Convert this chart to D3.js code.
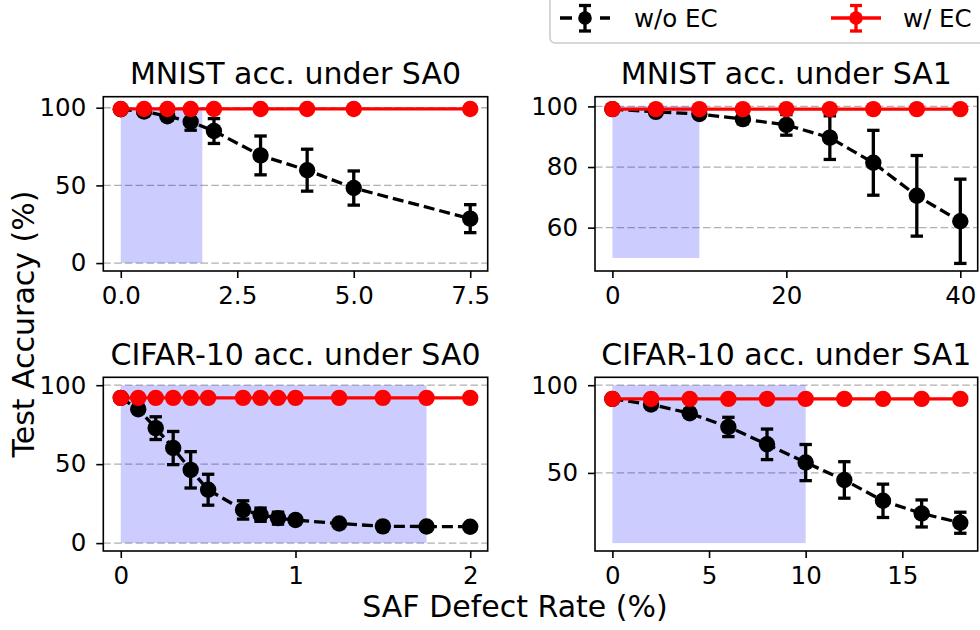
<!DOCTYPE html>
<html>
<head>
<meta charset="utf-8">
<script src="https://cdn.jsdelivr.net/npm/d3@7"></script>
<style>
  html, body { margin: 0; padding: 0; background: #fff; }
  svg { display: block; font-family: "DejaVu Sans", sans-serif; }
</style>
</head>
<body>
<svg id="chart" width="980" height="630"></svg>
<script>
// ---- data: accuracy (%) vs. stuck-at-fault defect rate (%) ----
// MNIST, stuck-at-0
const mnistSa0Rate = [0, 0.5, 1, 1.5, 2, 3, 4, 5, 7.5];
const mnistSa0NoEc = [99.0, 97.6, 94.5, 91.0, 85.0, 69.3, 59.8, 48.3, 28.6];
const mnistSa0NoEcErr = [0.5, 1.5, 2.5, 5.5, 8.0, 12.5, 13.5, 11.0, 9.0];
const mnistSa0Ec = [99.2, 99.2, 99.2, 99.2, 99.2, 99.2, 99.2, 99.2, 99.2];

// MNIST, stuck-at-1
const mnistSa1Rate = [0, 5, 10, 15, 20, 25, 30, 35, 40];
const mnistSa1NoEc = [99.1, 98.2, 97.5, 95.8, 93.9, 89.7, 81.4, 70.5, 62.1];
const mnistSa1NoEcErr = [0.3, 0.5, 1.0, 1.5, 3.4, 7.2, 10.7, 13.3, 13.9];
const mnistSa1Ec = [99.1, 99.1, 99.1, 99.1, 99.1, 99.1, 99.1, 99.1, 99.1];

// CIFAR-10, stuck-at-0
const cifarSa0Rate = [0, 0.1, 0.2, 0.3, 0.4, 0.5, 0.7, 0.8, 0.9, 1.0, 1.25, 1.5, 1.75, 2.0];
const cifarSa0NoEc = [92.0, 84.8, 72.8, 60.2, 46.4, 33.8, 21.0, 18.0, 15.8, 14.6, 12.4, 10.6, 10.5, 10.4];
const cifarSa0NoEcErr = [0.3, 2.5, 7.2, 10.5, 11.5, 9.8, 5.8, 4.2, 3.8, 2.2, 1.0, 0.6, 0.5, 0.4];
const cifarSa0Ec = [92.0, 92.0, 92.0, 92.0, 92.0, 92.0, 92.0, 92.0, 92.0, 92.0, 92.0, 92.0, 92.0, 92.0];

// CIFAR-10, stuck-at-1
const cifarSa1Rate = [0, 2, 4, 6, 8, 10, 12, 14, 16, 18];
const cifarSa1NoEc = [92.2, 89.0, 84.0, 76.2, 66.3, 55.9, 46.0, 34.1, 26.9, 21.6];
const cifarSa1NoEcErr = [0.3, 1.5, 2.2, 5.5, 8.7, 10.3, 10.4, 9.5, 7.7, 6.0];
const cifarSa1Ec = [92.2, 92.2, 92.2, 92.2, 92.2, 92.2, 92.2, 92.2, 92.2, 92.2];

// shaded operating regions: [xStart, xEnd, yStart, yEnd]
const mnistSa0Region = [0, 1.75, 0, 98.5];
const mnistSa1Region = [0, 10, 50, 100];
const cifarSa0Region = [0, 1.75, 0, 100];
const cifarSa1Region = [0, 10, 10, 100];

// tick values
const mnistSa0XTicks = [0, 2.5, 5, 7.5];
const mnistSa0YTicks = [0, 50, 100];
const mnistSa1XTicks = [0, 20, 40];
const mnistSa1YTicks = [60, 80, 100];
const cifarSa0XTicks = [0, 1, 2];
const cifarSa0YTicks = [0, 50, 100];
const cifarSa1XTicks = [0, 5, 10, 15];
const cifarSa1YTicks = [50, 100];

// axis ranges (data limits plus padding)
const mnistSa0XDomain = [-0.375, 7.875];
const mnistSa0YDomain = [-5.1, 107.1];
const mnistSa1XDomain = [-2, 42];
const mnistSa1YDomain = [45.7, 103.2];
const cifarSa0XDomain = [-0.1, 2.1];
const cifarSa0YDomain = [-5.0, 105.0];
const cifarSa1XDomain = [-0.9, 18.9];
const cifarSa1YDomain = [5.5, 104.5];

const seriesNames = ["w/o EC", "w/ EC"];

// ---- layout ----
const svg = d3.select("#chart");
svg.append("rect").attr("width", 980).attr("height", 630).attr("fill", "#fff");

const TICK_FONT = 24.5;
const TITLE_FONT = 30;
const LW = 3.3;

const panels = [
  { title: "MNIST acc. under SA0", box: [103.3, 96.7, 487.7, 271],
    rate: mnistSa0Rate, noEc: mnistSa0NoEc, err: mnistSa0NoEcErr, ec: mnistSa0Ec,
    region: mnistSa0Region, xTicks: mnistSa0XTicks, yTicks: mnistSa0YTicks,
    xDomain: mnistSa0XDomain, yDomain: mnistSa0YDomain, xFmt: d3.format(".1f") },
  { title: "MNIST acc. under SA1", box: [595, 96.7, 977.7, 271],
    rate: mnistSa1Rate, noEc: mnistSa1NoEc, err: mnistSa1NoEcErr, ec: mnistSa1Ec,
    region: mnistSa1Region, xTicks: mnistSa1XTicks, yTicks: mnistSa1YTicks,
    xDomain: mnistSa1XDomain, yDomain: mnistSa1YDomain, xFmt: d3.format("d") },
  { title: "CIFAR-10 acc. under SA0", box: [103.3, 377.3, 487.7, 551],
    rate: cifarSa0Rate, noEc: cifarSa0NoEc, err: cifarSa0NoEcErr, ec: cifarSa0Ec,
    region: cifarSa0Region, xTicks: cifarSa0XTicks, yTicks: cifarSa0YTicks,
    xDomain: cifarSa0XDomain, yDomain: cifarSa0YDomain, xFmt: d3.format("d") },
  { title: "CIFAR-10 acc. under SA1", box: [595, 377.3, 977.7, 551],
    rate: cifarSa1Rate, noEc: cifarSa1NoEc, err: cifarSa1NoEcErr, ec: cifarSa1Ec,
    region: cifarSa1Region, xTicks: cifarSa1XTicks, yTicks: cifarSa1YTicks,
    xDomain: cifarSa1XDomain, yDomain: cifarSa1YDomain, xFmt: d3.format("d") }
];

function drawPanel(p) {
  const [x0, y0, x1, y1] = p.box;
  const x = d3.scaleLinear().domain(p.xDomain).range([x0, x1]);
  const y = d3.scaleLinear().domain(p.yDomain).range([y1, y0]);
  const g = svg.append("g");

  // horizontal dashed grid
  g.selectAll("line.grid").data(p.yTicks).join("line")
    .attr("x1", x0).attr("x2", x1)
    .attr("y1", d => y(d)).attr("y2", d => y(d))
    .attr("stroke", "#b0b0b0").attr("stroke-width", 1.3)
    .attr("stroke-dasharray", "7.5,3.3");

  // shaded region
  const [rx0, rx1, ry0, ry1] = p.region;
  g.append("rect")
    .attr("x", x(rx0)).attr("y", y(ry1))
    .attr("width", x(rx1) - x(rx0)).attr("height", y(ry0) - y(ry1))
    .attr("fill", "blue").attr("fill-opacity", 0.2);

  const pts = p.rate.map((r, i) => ({ r, v: p.noEc[i], e: p.err[i], ec: p.ec[i] }));

  // without error correction: dashed black line, error bars, markers
  g.append("path").datum(pts)
    .attr("d", d3.line().x(d => x(d.r)).y(d => y(d.v)))
    .attr("fill", "none").attr("stroke", "#000").attr("stroke-width", LW)
    .attr("stroke-dasharray", "11,5");
  const eb = g.selectAll("g.eb").data(pts).join("g");
  eb.append("line")
    .attr("x1", d => x(d.r)).attr("x2", d => x(d.r))
    .attr("y1", d => y(d.v - d.e)).attr("y2", d => y(d.v + d.e))
    .attr("stroke", "#000").attr("stroke-width", LW);
  [-1, 1].forEach(s => {
    eb.append("line")
      .attr("x1", d => x(d.r) - 6.2).attr("x2", d => x(d.r) + 6.2)
      .attr("y1", d => y(d.v + s * d.e)).attr("y2", d => y(d.v + s * d.e))
      .attr("stroke", "#000").attr("stroke-width", LW);
  });
  g.selectAll("circle.noec").data(pts).join("circle")
    .attr("cx", d => x(d.r)).attr("cy", d => y(d.v)).attr("r", 8.2)
    .attr("fill", "#000");

  // with error correction: solid red line and markers
  g.append("path").datum(pts)
    .attr("d", d3.line().x(d => x(d.r)).y(d => y(d.ec)))
    .attr("fill", "none").attr("stroke", "#ff0000").attr("stroke-width", LW);
  g.selectAll("circle.ec").data(pts).join("circle")
    .attr("cx", d => x(d.r)).attr("cy", d => y(d.ec)).attr("r", 8.2)
    .attr("fill", "#ff0000");

  // frame
  g.append("rect").attr("x", x0).attr("y", y0)
    .attr("width", x1 - x0).attr("height", y1 - y0)
    .attr("fill", "none").attr("stroke", "#000").attr("stroke-width", 1.6);

  // axes
  const xa = g.append("g").attr("transform", `translate(0,${y1})`)
    .call(d3.axisBottom(x).tickValues(p.xTicks).tickFormat(p.xFmt)
      .tickSize(7).tickPadding(9).tickSizeOuter(0));
  const ya = g.append("g").attr("transform", `translate(${x0},0)`)
    .call(d3.axisLeft(y).tickValues(p.yTicks).tickFormat(d3.format("d"))
      .tickSize(7).tickPadding(10).tickSizeOuter(0));
  [xa, ya].forEach(a => {
    a.select(".domain").remove();
    a.selectAll(".tick line").attr("stroke", "#000").attr("stroke-width", 1.6);
    a.selectAll(".tick text").attr("fill", "#000")
      .style("font-size", TICK_FONT + "px").style("font-family", "DejaVu Sans");
  });

  // title
  svg.append("text")
    .attr("x", (x0 + x1) / 2).attr("y", y0 - 12.5)
    .attr("text-anchor", "middle")
    .style("font-size", TITLE_FONT + "px").attr("fill", "#000")
    .text(p.title);
}

panels.forEach(drawPanel);

// shared axis labels
svg.append("text")
  .attr("transform", "translate(34,324) rotate(-90)")
  .attr("text-anchor", "middle")
  .style("font-size", TITLE_FONT + "px").attr("fill", "#000")
  .text("Test Accuracy (%)");
svg.append("text")
  .attr("x", 515).attr("y", 617)
  .attr("text-anchor", "middle")
  .style("font-size", TITLE_FONT + "px").attr("fill", "#000")
  .text("SAF Defect Rate (%)");

// legend
const leg = svg.append("g");
leg.append("rect")
  .attr("x", 550).attr("y", -10).attr("width", 450).attr("height", 53)
  .attr("rx", 5).attr("fill", "#fff").attr("fill-opacity", 0.8)
  .attr("stroke", "#cccccc").attr("stroke-width", 1.6);

const legendItems = [
  { name: seriesNames[0], color: "#000", dashed: true, hx: 585, tx: 634 },
  { name: seriesNames[1], color: "#ff0000", dashed: false, hx: 856, tx: 903 }
];
legendItems.forEach(it => {
  const ly = 18;
  leg.append("line")
    .attr("x1", it.hx - 25).attr("x2", it.hx + 25).attr("y1", ly).attr("y2", ly)
    .attr("stroke", it.color).attr("stroke-width", LW)
    .attr("stroke-dasharray", it.dashed ? "12,28,10" : null);
  leg.append("line")
    .attr("x1", it.hx).attr("x2", it.hx).attr("y1", ly - 12.5).attr("y2", ly + 13)
    .attr("stroke", it.color).attr("stroke-width", LW);
  [-12.5, 13].forEach(o => {
    leg.append("line")
      .attr("x1", it.hx - 6).attr("x2", it.hx + 6).attr("y1", ly + o).attr("y2", ly + o)
      .attr("stroke", it.color).attr("stroke-width", LW);
  });
  leg.append("circle").attr("cx", it.hx).attr("cy", ly).attr("r", 6.8).attr("fill", it.color);
  leg.append("text").attr("x", it.tx).attr("y", ly + 9)
    .style("font-size", TICK_FONT + "px").attr("fill", "#000")
    .text(it.name);
});
</script>
</body>
</html>
